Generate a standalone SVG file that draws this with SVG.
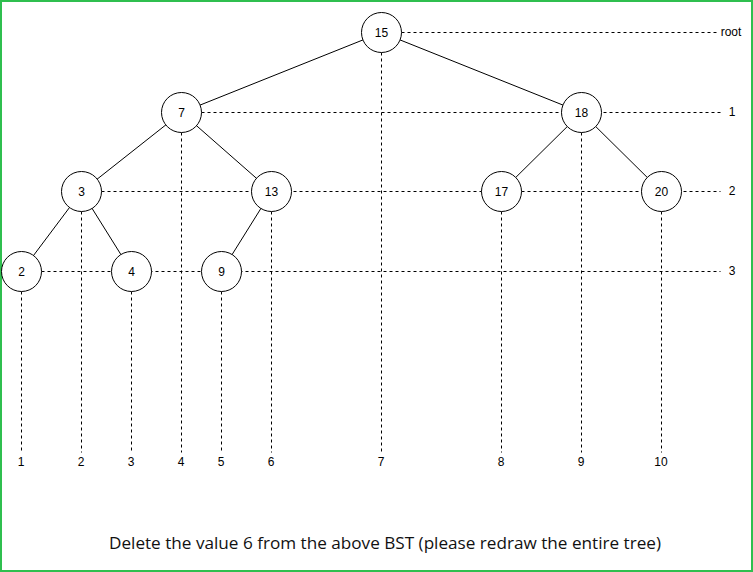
<svg xmlns="http://www.w3.org/2000/svg" width="753" height="572" viewBox="0 0 753 572">
  <style>
    .edge { stroke: #000; stroke-width: 1; fill: none; }
    .guide { stroke: #000; stroke-width: 1; stroke-dasharray: 3 3; fill: none; }
    .node circle { fill: #fff; stroke: #000; stroke-width: 1; }
    .node text, .lbl { font-family: "Liberation Sans", Arial, sans-serif; font-size: 12px; fill: #000; text-anchor: middle; dominant-baseline: central; }
    .caption { font-family: "Open Sans", "Liberation Sans", sans-serif; font-size: 16px; fill: #111; text-anchor: middle; }
  </style>
  <rect x="0" y="0" width="753" height="572" fill="#fff"/>
  <rect x="1" y="1" width="751" height="570" fill="none" stroke="#2fbf4f" stroke-width="2"/>

  <!-- dashed level and column guides (half-pixel offsets keep them crisp) -->
  <g id="guides" transform="translate(0.5 0.5)">
    <line class="guide" x1="401" y1="32" x2="719" y2="32"/>
    <line class="guide" x1="201" y1="112" x2="720" y2="112"/>
    <line class="guide" x1="101" y1="191" x2="720" y2="191"/>
    <line class="guide" x1="41" y1="271" x2="720" y2="271"/>
    <line class="guide" x1="21" y1="291" x2="21" y2="452"/>
    <line class="guide" x1="81" y1="211" x2="81" y2="452"/>
    <line class="guide" x1="131" y1="291" x2="131" y2="452"/>
    <line class="guide" x1="181" y1="132" x2="181" y2="452"/>
    <line class="guide" x1="221" y1="291" x2="221" y2="452"/>
    <line class="guide" x1="271" y1="211" x2="271" y2="452"/>
    <line class="guide" x1="381" y1="52" x2="381" y2="452"/>
    <line class="guide" x1="501" y1="211" x2="501" y2="452"/>
    <line class="guide" x1="581" y1="132" x2="581" y2="452"/>
    <line class="guide" x1="661" y1="211" x2="661" y2="452"/>
  </g>

  <!-- tree edges -->
  <g id="connectors" transform="translate(0.5 0.5)">
    <line class="edge" x1="381" y1="32" x2="181" y2="112"/>
    <line class="edge" x1="381" y1="32" x2="581" y2="112"/>
    <line class="edge" x1="181" y1="112" x2="81" y2="191"/>
    <line class="edge" x1="181" y1="112" x2="271" y2="191"/>
    <line class="edge" x1="581" y1="112" x2="501" y2="191"/>
    <line class="edge" x1="581" y1="112" x2="661" y2="191"/>
    <line class="edge" x1="81" y1="191" x2="21" y2="271"/>
    <line class="edge" x1="81" y1="191" x2="131" y2="271"/>
    <line class="edge" x1="271" y1="191" x2="221" y2="271"/>
  </g>

  <g transform="translate(0.5 0.5)">
    <g id="n15" class="node"><circle cx="381" cy="32" r="20"/><text x="381" y="32">15</text></g>
    <g id="n7" class="node"><circle cx="181" cy="112" r="20"/><text x="181" y="112">7</text></g>
    <g id="n18" class="node"><circle cx="581" cy="112" r="20"/><text x="581" y="112">18</text></g>
    <g id="n3" class="node"><circle cx="81" cy="191" r="20"/><text x="81" y="191">3</text></g>
    <g id="n13" class="node"><circle cx="271" cy="191" r="20"/><text x="271" y="191">13</text></g>
    <g id="n17" class="node"><circle cx="501" cy="191" r="20"/><text x="501" y="191">17</text></g>
    <g id="n20" class="node"><circle cx="661" cy="191" r="20"/><text x="661" y="191">20</text></g>
    <g id="n2" class="node"><circle cx="21" cy="271" r="20"/><text x="21" y="271">2</text></g>
    <g id="n4" class="node"><circle cx="131" cy="271" r="20"/><text x="131" y="271">4</text></g>
    <g id="n9" class="node"><circle cx="221" cy="271" r="20"/><text x="221" y="271">9</text></g>
  </g>

  <!-- level labels -->
  <g id="level-labels">
    <text class="lbl" x="731" y="32">root</text>
    <text class="lbl" x="732" y="112">1</text>
    <text class="lbl" x="732" y="191">2</text>
    <text class="lbl" x="732" y="271">3</text>
  </g>

  <!-- column labels -->
  <g id="column-labels">
    <text class="lbl" x="21" y="462">1</text>
    <text class="lbl" x="81" y="462">2</text>
    <text class="lbl" x="131" y="462">3</text>
    <text class="lbl" x="181" y="462">4</text>
    <text class="lbl" x="221" y="462">5</text>
    <text class="lbl" x="271" y="462">6</text>
    <text class="lbl" x="381" y="462">7</text>
    <text class="lbl" x="501" y="462">8</text>
    <text class="lbl" x="581" y="462">9</text>
    <text class="lbl" x="661" y="462">10</text>
  </g>

  <text class="caption" x="385" y="549" textLength="552" lengthAdjust="spacingAndGlyphs">Delete the value 6 from the above BST (please redraw the entire tree)</text>
</svg>
